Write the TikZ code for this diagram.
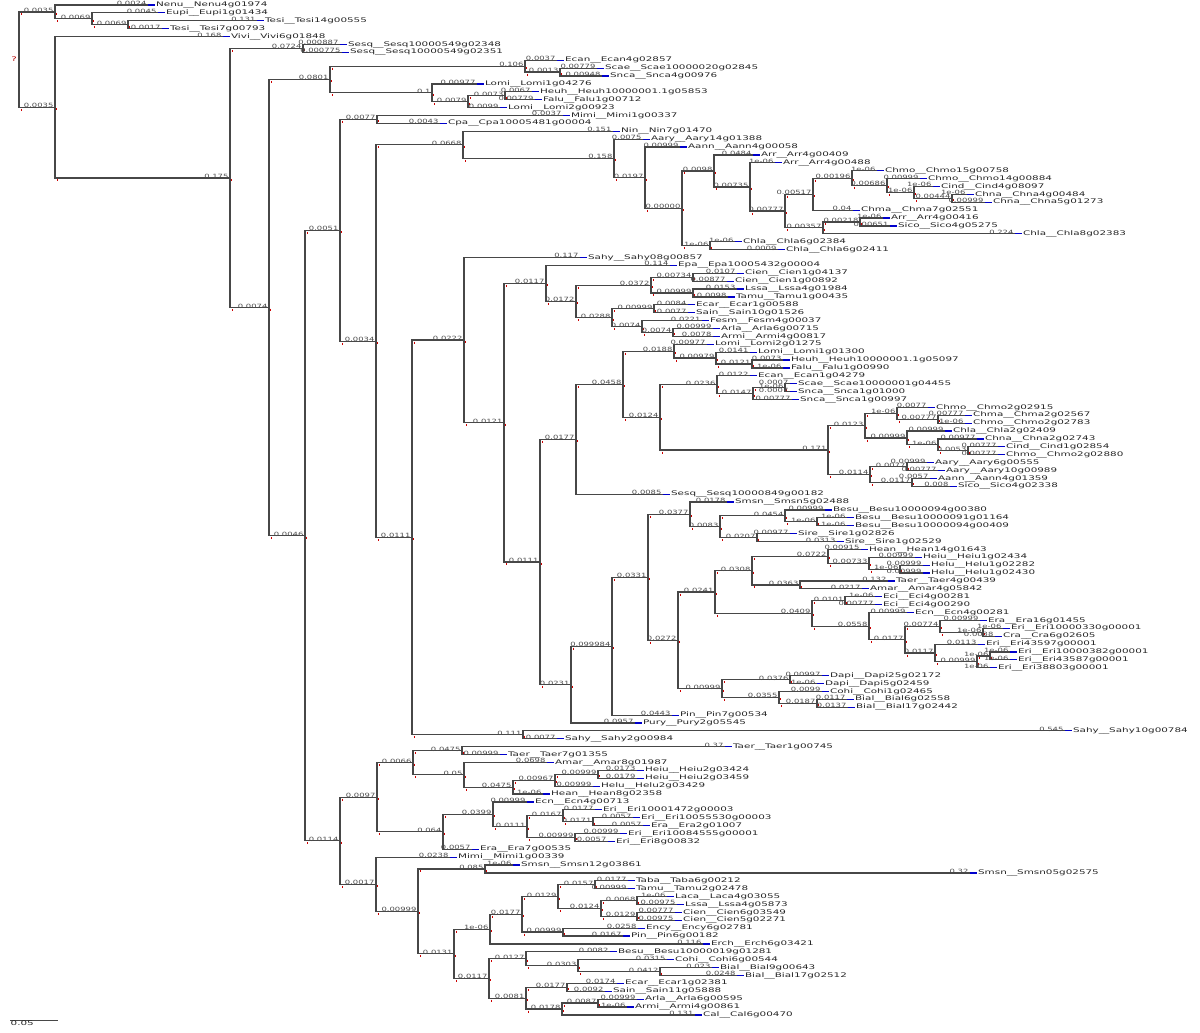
\documentclass[tikz,border=0pt]{standalone}
\usepackage{fontspec}
\usepackage{tikz}
\newfontfamily\treefont[FakeStretch=1.65]{DejaVu Sans}
\newfontfamily\lenfont[FakeStretch=1.45]{DejaVu Sans}

\tikzset{
  twig/.style={draw=black!72, line width=1.2pt},
  tipseg/.style={draw=blue!80!black, line width=1.2pt},
  blen/.style={anchor=base east, inner sep=0pt, xshift=-1pt, yshift=-0.5pt,
    font=\lenfont\fontsize{5.8}{5.8}\selectfont, text=black!70},
  taxon/.style={anchor=west, inner sep=0.5pt,
    font=\treefont\fontsize{6.3}{6.3}\selectfont, text=black!85},
  redtick/.style={draw=red!80!black, line width=0.8pt},
  rootlab/.style={anchor=east, inner sep=0pt, xshift=-2pt,
    font=\treefont\fontsize{6.3}{6.3}\selectfont, text=red!70!black}
}

% inner node: parent, name, x, y, branch length
\newcommand{\innode}[5]{%
  \coordinate (#2) at (#3,#4);
  \draw[twig] (#1) |- (#2) node[blen]{#5};
  \draw[redtick] (#1 |- #2) ++(2pt,-1.5pt) -- ++(0,-2pt);
  \draw[redtick] (#2) ++(1.5pt,-1pt) -- ++(0,-2pt);}
% tip: parent, name, x, y, branch length, genus, gene
\newcommand{\tipnode}[7]{%
  \coordinate (#2) at (#3,#4);
  \draw[twig] (#1) |- (#2) node[blen]{#5};
  \draw[tipseg] (#2) -- ++(7pt,0) node[taxon] (#2n) {#6\_\_#7};}

\begin{document}
\begin{tikzpicture}[x=1pt,y=-7.89pt]
\useasboundingbox (0,-0.6337) rectangle (1200,130.165);

% root
\coordinate (nR) at (19,6.92);
\node[rootlab] (rootl) at (nR) {?};

% outgroup
\innode{nR}{nA}{55}{0.875}{0.0035}
\tipnode{nA}{t0}{148}{0}{0.0024}{Nenu}{Nenu4g01974}
\innode{nA}{nB}{92}{1.75}{0.0069}
\tipnode{nB}{t1}{158}{1}{0.0045}{Eupi}{Eupi1g01434}
\innode{nB}{nD}{128}{2.5}{0.0069}
\tipnode{nD}{t2}{257}{2}{0.131}{Tesi}{Tesi14g00555}
\tipnode{nD}{t3}{162}{3}{0.0017}{Tesi}{Tesi7g00793}
\innode{nR}{nC}{55}{12.96}{0.0035}
\tipnode{nC}{t4}{223}{4}{0.168}{Vivi}{Vivi6g01848}
\innode{nC}{nE}{230}{21.92}{0.175}
\innode{nE}{nF}{303}{5.5}{0.0724}
\tipnode{nF}{t5}{340}{5}{0.000887}{Sesq}{Sesq10000549g02348}
\tipnode{nF}{t6}{342}{6}{0.000775}{Sesq}{Sesq10000549g02351}
\innode{nE}{nG}{269}{38.34}{0.0074}

% upper clade
\innode{nG}{nH}{330}{9.4375}{0.0801}
\innode{nH}{nJ}{525}{7.75}{0.106}
\tipnode{nJ}{t7}{557}{7}{0.0037}{Ecan}{Ecan4g02857}
\innode{nJ}{nL}{560}{8.5}{0.0013}
\tipnode{nL}{t8}{597}{8}{0.00779}{Scae}{Scae10000020g02845}
\tipnode{nL}{t9}{602}{9}{0.00948}{Snca}{Snca4g00976}
\innode{nH}{nK}{432}{11.125}{0.1}
\tipnode{nK}{t10}{477}{10}{0.00977}{Lomi}{Lomi1g04276}
\innode{nK}{nM}{468}{12.25}{0.0079}
\innode{nM}{nN}{505}{11.5}{0.0073}
\tipnode{nN}{t11}{532}{11}{0.0067}{Heuh}{Heuh10000001.1g05853}
\tipnode{nN}{t12}{535}{12}{0.00779}{Falu}{Falu1g00712}
\tipnode{nM}{t13}{500}{13}{0.0099}{Lomi}{Lomi2g00923}
\innode{nG}{nI}{305}{67.24}{0.0046}
\innode{nI}{nP}{340}{28.55}{0.0051}
\innode{nP}{nPA}{377}{14.5}{0.0077}
\tipnode{nPA}{t14}{563}{14}{0.0037}{Mimi}{Mimi1g00337}
\tipnode{nPA}{t15}{440}{15}{0.0043}{Cpa}{Cpa10005481g00004}
\innode{nP}{nS}{376}{42.6}{0.0034}
\innode{nS}{nT}{463}{17.72}{0.0668}
\tipnode{nT}{t16}{613}{16}{0.151}{Nin}{Nin7g01470}
\innode{nT}{nU}{614}{19.44}{0.158}
\tipnode{nU}{t17}{643}{17}{0.0075}{Aary}{Aary14g01388}
\innode{nU}{nV}{645}{21.88}{0.0197}
\tipnode{nV}{t18}{680}{18}{0.00999}{Aann}{Aann4g00058}
\innode{nV}{nW}{682}{25.76}{0.00000}
\innode{nW}{nX}{714}{21.03}{0.0098}
\tipnode{nX}{t19}{753}{19}{0.0484}{Arr}{Arr4g00409}
\innode{nX}{nY}{750}{23.06}{0.00735}
\tipnode{nY}{t20}{775}{20}{1e-06}{Arr}{Arr4g00488}
\innode{nY}{nZ}{785}{26.11}{0.00777}
\innode{nZ}{nZ1}{813}{23.97}{0.00517}
\innode{nZ1}{nZ2}{852}{21.94}{0.00196}
\tipnode{nZ2}{t21}{877}{21}{1e-06}{Chmo}{Chmo15g00758}
\innode{nZ2}{nZ3}{887}{22.875}{0.00686}
\tipnode{nZ3}{t22}{920}{22}{0.00999}{Chmo}{Chmo14g00884}
\innode{nZ3}{nZ4}{914}{23.75}{1e-06}
\tipnode{nZ4}{t23}{933}{23}{1e-06}{Cind}{Cind4g08097}
\innode{nZ4}{nZ5}{952}{24.5}{0.00444}
\tipnode{nZ5}{t24}{967}{24}{1e-06}{Chna}{Chna4g00484}
\tipnode{nZ5}{t25}{985}{25}{0.00999}{Chna}{Chna5g01273}
\tipnode{nZ1}{t26}{853}{26}{0.04}{Chma}{Chma7g02551}
\innode{nZ}{nZ6}{823}{28.25}{0.00357}
\innode{nZ6}{nZ7}{860}{27.5}{0.00218}
\tipnode{nZ7}{t27}{883}{27}{1e-06}{Arr}{Arr4g00416}
\tipnode{nZ7}{t28}{890}{28}{0.00651}{Sico}{Sico4g05275}
\tipnode{nZ6}{t29}{1015}{29}{0.224}{Chla}{Chla8g02383}
\innode{nW}{nW2}{710}{30.5}{1e-06}
\tipnode{nW2}{t30}{735}{30}{1e-06}{Chla}{Chla6g02384}
\tipnode{nW2}{t31}{778}{31}{0.0009}{Chla}{Chla6g02411}

% middle clade
\innode{nS}{nAA}{412}{67.48}{0.0111}
\innode{nAA}{nAB}{464}{42.47}{0.0222}
\tipnode{nAB}{t32}{580}{32}{0.117}{Sahy}{Sahy08g00857}
\innode{nAB}{nAD}{504}{52.93}{0.0121}
\innode{nAD}{nAE}{546}{35.28}{0.0117}
\tipnode{nAE}{t33}{670}{33}{0.114}{Epa}{Epa10005432g00004}
\innode{nAE}{nAF}{576}{37.56}{0.0172}
\innode{nAF}{nAG}{651}{35.5}{0.0372}
\innode{nAG}{nAH}{693}{34.5}{0.00734}
\tipnode{nAH}{t34}{737}{34}{0.0107}{Cien}{Cien1g04137}
\tipnode{nAH}{t35}{727}{35}{0.00877}{Cien}{Cien1g00892}
\innode{nAG}{nAI}{693}{36.5}{0.00999}
\tipnode{nAI}{t36}{737}{36}{0.0153}{Lssa}{Lssa4g01984}
\tipnode{nAI}{t37}{728}{37}{0.0098}{Tamu}{Tamu1g00435}
\innode{nAF}{nAJ}{612}{39.63}{0.0288}
\innode{nAJ}{nAK}{654}{38.5}{0.00999}
\tipnode{nAK}{t38}{688}{38}{0.0084}{Ecar}{Ecar1g00588}
\tipnode{nAK}{t39}{688}{39}{0.0077}{Sain}{Sain10g01526}
\innode{nAJ}{nAL}{642}{40.75}{0.0074}
\tipnode{nAL}{t40}{702}{40}{0.0221}{Fesm}{Fesm4g00037}
\innode{nAL}{nAM}{673}{41.5}{0.0074}
\tipnode{nAM}{t41}{713}{41}{0.00999}{Arla}{Arla6g00715}
\tipnode{nAM}{t42}{713}{42}{0.0078}{Armi}{Armi4g00817}
\innode{nAD}{nAO}{540}{70.59}{0.0111}
\innode{nAO}{nAN}{576}{55.04}{0.0177}
\innode{nAN}{nAP}{623}{48.07}{0.0458}
\innode{nAP}{nAQ}{674}{43.88}{0.0188}
\tipnode{nAQ}{t43}{707}{43}{0.00977}{Lomi}{Lomi2g01275}
\innode{nAQ}{nAR}{716}{44.75}{0.00979}
\tipnode{nAR}{t44}{750}{44}{0.0141}{Lomi}{Lomi1g01300}
\innode{nAR}{nAS}{752}{45.5}{0.0121}
\tipnode{nAS}{t45}{783}{45}{0.0073}{Heuh}{Heuh10000001.1g05097}
\tipnode{nAS}{t46}{783}{46}{1e-06}{Falu}{Falu1g00990}
\innode{nAP}{nAT}{660}{52.27}{0.0124}
\innode{nAT}{nAU}{717}{48.13}{0.0236}
\tipnode{nAU}{t47}{750}{47}{0.0122}{Ecan}{Ecan1g04279}
\innode{nAU}{nAV}{753}{49.25}{0.0147}
\innode{nAV}{nAW}{785}{48.5}{1e-06}
\tipnode{nAW}{t48}{790}{48}{0.0007}{Scae}{Scae10000001g04455}
\tipnode{nAW}{t49}{790}{49}{0.0007}{Snca}{Snca1g01000}
\tipnode{nAV}{t50}{792}{50}{0.00777}{Snca}{Snca1g00997}
\innode{nAT}{nAX}{828}{56.41}{0.171}
\innode{nAX}{nAY}{865}{53.31}{0.0123}
\innode{nAY}{nAZ}{897}{51.75}{1e-06}
\tipnode{nAZ}{t51}{928}{51}{0.0077}{Chmo}{Chmo2g02915}
\innode{nAZ}{nBA}{938}{52.5}{0.00777}
\tipnode{nBA}{t52}{965}{52}{0.00777}{Chma}{Chma2g02567}
\tipnode{nBA}{t53}{965}{53}{1e-06}{Chmo}{Chmo2g02783}
\innode{nAY}{nBB}{907}{54.88}{0.00999}
\tipnode{nBB}{t54}{945}{54}{0.00999}{Chla}{Chla2g02409}
\innode{nBB}{nBC}{938}{55.75}{1e-06}
\tipnode{nBC}{t55}{977}{55}{0.00977}{Chna}{Chna2g02743}
\innode{nBC}{nBD}{968}{56.5}{0.0053}
\tipnode{nBD}{t56}{998}{56}{0.00777}{Cind}{Cind1g02854}
\tipnode{nBD}{t57}{998}{57}{0.00777}{Chmo}{Chmo2g02880}
\innode{nAX}{nBE}{870}{59.5}{0.0114}
\innode{nBE}{nBF}{907}{58.5}{0.0077}
\tipnode{nBF}{t58}{927}{58}{0.00999}{Aary}{Aary6g00555}
\tipnode{nBF}{t59}{938}{59}{0.00777}{Aary}{Aary10g00989}
\innode{nBE}{nBG}{912}{60.5}{0.0117}
\tipnode{nBG}{t60}{930}{60}{0.0057}{Aann}{Aann4g01359}
\tipnode{nBG}{t61}{950}{61}{0.008}{Sico}{Sico4g02338}
\tipnode{nAN}{t62}{663}{62}{0.0085}{Sesq}{Sesq10000849g00182}
\innode{nAO}{nBH}{571}{86.14}{0.0231}
\innode{nBH}{nBI}{612}{81.27}{0.099984}
\innode{nBI}{nBJ}{648}{72.54}{0.0331}
\innode{nBJ}{nBK}{690}{64.56}{0.0377}
\tipnode{nBK}{t63}{727}{63}{0.0178}{Smsn}{Smsn5g02488}
\innode{nBK}{nBL}{720}{66.13}{0.0083}
\innode{nBL}{nBM}{785}{64.75}{0.0454}
\tipnode{nBM}{t64}{825}{64}{0.00999}{Besu}{Besu10000094g00380}
\innode{nBM}{nBN}{817}{65.5}{1e-06}
\tipnode{nBN}{t65}{847}{65}{1e-06}{Besu}{Besu10000091g01164}
\tipnode{nBN}{t66}{847}{66}{1e-06}{Besu}{Besu10000094g00409}
\innode{nBL}{nBO}{757}{67.5}{0.0207}
\tipnode{nBO}{t67}{790}{67}{0.00977}{Sire}{Sire1g02826}
\tipnode{nBO}{t68}{837}{68}{0.0313}{Sire}{Sire1g02529}
\innode{nBJ}{nBQ}{678}{80.51}{0.0272}
\innode{nBQ}{nCF}{715}{74.40}{0.0241}
\innode{nCF}{nCD}{752}{71.69}{0.0308}
\innode{nCD}{nCA}{828}{69.88}{0.0722}
\tipnode{nCA}{t69}{861}{69}{0.00915}{Hean}{Hean14g01643}
\innode{nCA}{nCB}{869}{70.75}{0.00733}
\tipnode{nCB}{t70}{915}{70}{0.00999}{Heiu}{Heiu1g02434}
\innode{nCB}{nCC}{900}{71.5}{1e-06}
\tipnode{nCC}{t71}{923}{71}{0.00999}{Helu}{Helu1g02282}
\tipnode{nCC}{t72}{923}{72}{0.00999}{Helu}{Helu1g02430}
\innode{nCD}{nCE}{800}{73.5}{0.0363}
\tipnode{nCE}{t73}{888}{73}{0.132}{Taer}{Taer4g00439}
\tipnode{nCE}{t74}{862}{74}{0.0217}{Amar}{Amar4g05842}
\innode{nCF}{nCG}{812}{77.11}{0.0409}
\innode{nCG}{nCH}{845}{75.5}{0.0101}
\tipnode{nCH}{t75}{875}{75}{1e-06}{Eci}{Eci4g00281}
\tipnode{nCH}{t76}{875}{76}{0.00777}{Eci}{Eci4g00290}
\innode{nCG}{nCI}{869}{78.72}{0.0558}
\tipnode{nCI}{t77}{907}{77}{0.00999}{Ecn}{Ecn4g00281}
\innode{nCI}{nCJ}{905}{80.44}{0.0177}
\innode{nCJ}{nCK}{940}{78.75}{0.00774}
\tipnode{nCK}{t78}{980}{78}{0.00999}{Era}{Era16g01455}
\innode{nCK}{nCL}{983}{79.5}{1e-06}
\tipnode{nCL}{t79}{1003}{79}{1e-06}{Eri}{Eri10000330g00001}
\tipnode{nCL}{t80}{995}{80}{0.0038}{Cra}{Cra6g02605}
\innode{nCJ}{nCM}{935}{82.13}{0.0117}
\tipnode{nCM}{t81}{978}{81}{0.0113}{Eri}{Eri43597g00001}
\innode{nCM}{nCN}{977}{83.25}{0.00999}
\innode{nCN}{nCO}{990}{82.5}{1e-06}
\tipnode{nCO}{t82}{1010}{82}{1e-06}{Eri}{Eri10000382g00001}
\tipnode{nCO}{t83}{1010}{83}{1e-06}{Eri}{Eri43587g00001}
\tipnode{nCN}{t84}{990}{84}{1e-06}{Eri}{Eri38803g00001}
\innode{nBQ}{nBR}{722}{86.63}{0.00999}
\innode{nBR}{nBS}{790}{85.5}{0.0376}
\tipnode{nBS}{t85}{822}{85}{0.00997}{Dapi}{Dapi25g02172}
\tipnode{nBS}{t86}{817}{86}{1e-06}{Dapi}{Dapi5g02459}
\innode{nBR}{nBT}{779}{87.75}{0.0355}
\tipnode{nBT}{t87}{822}{87}{0.0099}{Cohi}{Cohi1g02465}
\innode{nBT}{nBU}{817}{88.5}{0.0187}
\tipnode{nBU}{t88}{847}{88}{0.0117}{Bial}{Bial6g02558}
\tipnode{nBU}{t89}{848}{89}{0.0137}{Bial}{Bial17g02442}
\tipnode{nBI}{t90}{672}{90}{0.0443}{Pin}{Pin7g00534}
\tipnode{nBH}{t91}{635}{91}{0.0957}{Pury}{Pury2g05545}
\innode{nAA}{nBV}{523}{92.5}{0.111}
\tipnode{nBV}{t92}{1065}{92}{0.545}{Sahy}{Sahy10g00784}
\tipnode{nBV}{t93}{557}{93}{0.0077}{Sahy}{Sahy2g00984}

% lower clade
\innode{nI}{nQ}{340}{105.92}{0.0114}
\innode{nQ}{nQA}{377}{100.41}{0.0097}
\innode{nQA}{nQB}{413}{96.03}{0.0066}
\innode{nQB}{nQC}{462}{94.5}{0.0475}
\tipnode{nQC}{t94}{725}{94}{0.37}{Taer}{Taer1g00745}
\tipnode{nQC}{t95}{500}{95}{0.00999}{Taer}{Taer7g01355}
\innode{nQB}{nQD}{464}{97.56}{0.05}
\tipnode{nQD}{t96}{547}{96}{0.0698}{Amar}{Amar8g01987}
\innode{nQD}{nQE}{513}{99.13}{0.0475}
\innode{nQE}{nQF}{555}{98.25}{0.00967}
\innode{nQF}{nQG}{598}{97.5}{0.00999}
\tipnode{nQG}{t97}{637}{97}{0.0173}{Heiu}{Heiu2g03424}
\tipnode{nQG}{t98}{637}{98}{0.0179}{Heiu}{Heiu2g03459}
\tipnode{nQF}{t99}{593}{99}{0.00999}{Helu}{Helu2g03429}
\tipnode{nQE}{t100}{543}{100}{1e-06}{Hean}{Hean8g02358}
\innode{nQA}{nQH}{443}{104.78}{0.064}
\innode{nQH}{nQI}{493}{102.56}{0.0399}
\tipnode{nQI}{t101}{527}{101}{0.00999}{Ecn}{Ecn4g00713}
\innode{nQI}{nQJ}{527}{104.13}{0.0111}
\innode{nQJ}{nQK}{563}{102.75}{0.0167}
\tipnode{nQK}{t102}{595}{102}{0.0177}{Eri}{Eri10001472g00003}
\innode{nQK}{nQL}{593}{103.5}{0.0171}
\tipnode{nQL}{t103}{633}{103}{0.0057}{Eri}{Eri10055530g00003}
\tipnode{nQL}{t104}{643}{104}{0.0057}{Era}{Era2g01007}
\innode{nQJ}{nQM}{575}{105.5}{0.00999}
\tipnode{nQM}{t105}{620}{105}{0.00999}{Eri}{Eri10084555g00001}
\tipnode{nQM}{t106}{608}{106}{0.0057}{Eri}{Eri8g00832}
\tipnode{nQH}{t107}{472}{107}{0.0057}{Era}{Era7g00535}
\innode{nQ}{nQN}{376}{111.44}{0.0017}
\tipnode{nQN}{t108}{450}{108}{0.0238}{Mimi}{Mimi1g00339}
\innode{nQN}{nQO}{418}{114.88}{0.00999}
\innode{nQO}{nQP}{485}{109.5}{0.085}
\tipnode{nQP}{t109}{513}{109}{1e-06}{Smsn}{Smsn12g03861}
\tipnode{nQP}{t110}{970}{110}{0.32}{Smsn}{Smsn05g02575}
\innode{nQO}{nQQ}{454}{120.25}{0.0131}
\innode{nQQ}{nQR}{490}{117.13}{1e-06}
\innode{nQR}{nQS}{522}{115.25}{0.0177}
\innode{nQS}{nQT}{558}{113}{0.0129}
\innode{nQT}{nQU}{595}{111.5}{0.0157}
\tipnode{nQU}{t111}{628}{111}{0.0177}{Taba}{Taba6g00212}
\tipnode{nQU}{t112}{628}{112}{0.00999}{Tamu}{Tamu2g02478}
\innode{nQT}{nQV}{601}{114.5}{0.0124}
\innode{nQV}{nQW}{637}{113.5}{0.0068}
\tipnode{nQW}{t113}{667}{113}{1e-06}{Laca}{Laca4g03055}
\tipnode{nQW}{t114}{677}{114}{0.00975}{Lssa}{Lssa4g05873}
\innode{nQV}{nQX}{637}{115.5}{0.0129}
\tipnode{nQX}{t115}{675}{115}{0.00777}{Cien}{Cien6g03549}
\tipnode{nQX}{t116}{675}{116}{0.00975}{Cien}{Cien5g02271}
\innode{nQS}{nQY}{563}{117.5}{0.00999}
\tipnode{nQY}{t117}{638}{117}{0.0258}{Ency}{Ency6g02781}
\tipnode{nQY}{t118}{623}{118}{0.0167}{Pin}{Pin6g00182}
\tipnode{nQR}{t119}{703}{119}{0.116}{Erch}{Erch6g03421}
\innode{nQQ}{nQZ}{489}{123.38}{0.0117}
\innode{nQZ}{nRA}{526}{120.88}{0.0127}
\tipnode{nRA}{t120}{610}{120}{0.0082}{Besu}{Besu10000019g01281}
\innode{nRA}{nRB}{578}{121.75}{0.0303}
\tipnode{nRB}{t121}{667}{121}{0.0315}{Cohi}{Cohi6g00544}
\innode{nRB}{nRC}{660}{122.5}{0.0412}
\tipnode{nRC}{t122}{712}{122}{0.023}{Bial}{Bial9g00643}
\tipnode{nRC}{t123}{737}{123}{0.0248}{Bial}{Bial17g02512}
\innode{nQZ}{nRD}{526}{125.88}{0.0081}
\innode{nRD}{nRE}{567}{124.5}{0.0177}
\tipnode{nRE}{t124}{617}{124}{0.0174}{Ecar}{Ecar1g02381}
\tipnode{nRE}{t125}{605}{125}{0.0092}{Sain}{Sain11g05888}
\innode{nRD}{nRF}{562}{127.25}{0.0178}
\innode{nRF}{nRG}{598}{126.5}{0.0087}
\tipnode{nRG}{t126}{637}{126}{0.00999}{Arla}{Arla6g00595}
\tipnode{nRG}{t127}{627}{127}{1e-06}{Armi}{Armi4g00861}
\tipnode{nRF}{t128}{695}{128}{0.131}{Cal}{Cal6g00470}

% scale bar
\coordinate (sbl) at (10,128.64);
\coordinate (sbr) at (58,128.64);
\draw[twig, line width=0.6pt] (sbl) -- (sbr);
\node[taxon, anchor=north west] (sbt) at (sbl) {0.05};
\end{tikzpicture}
\end{document}
